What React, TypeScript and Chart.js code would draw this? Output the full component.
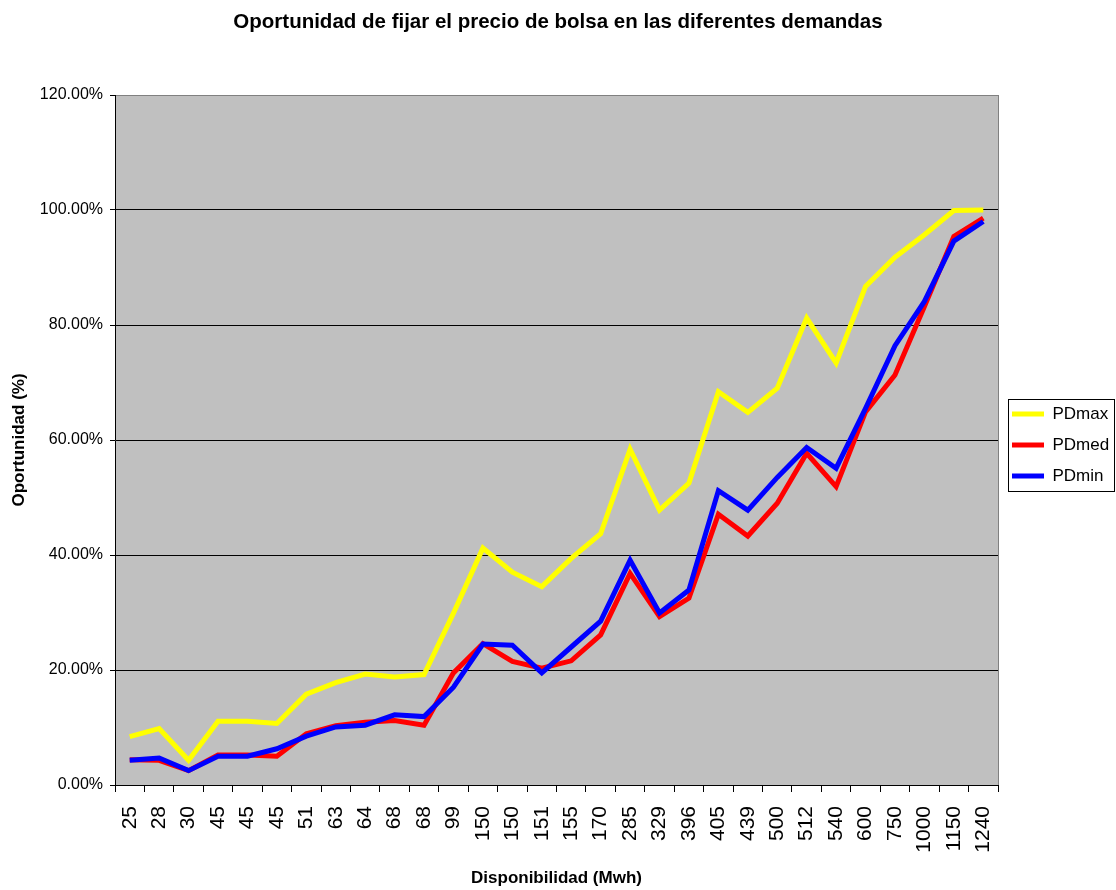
import React, { useEffect, useRef } from 'react';
import { Chart, registerables } from 'chart.js';

Chart.register(...registerables);

const categories = ['25', '28', '30', '45', '45', '45', '51', '63', '64', '68', '68', '99', '150', '150', '151', '155', '170', '285', '329', '396', '405', '439', '500', '512', '540', '600', '750', '1000', '1150', '1240'];

const pdMax = [8.4, 9.8, 4.3, 11.1, 11.1, 10.7, 15.8, 17.8, 19.3, 18.8, 19.2, 29.9, 41.2, 37.0, 34.5, 39.4, 43.7, 58.4, 47.8, 52.5, 68.4, 64.8, 69.0, 81.2, 73.4, 86.7, 91.8, 95.7, 99.9, 100.0];
const pdMed = [4.4, 4.3, 2.5, 5.2, 5.2, 5.0, 8.9, 10.3, 10.9, 11.2, 10.4, 19.5, 24.6, 21.5, 20.3, 21.6, 26.1, 36.8, 29.3, 32.5, 47.1, 43.3, 49.0, 57.7, 51.9, 64.9, 71.3, 83.2, 95.4, 98.6];
const pdMin = [4.3, 4.7, 2.5, 5.0, 5.0, 6.3, 8.5, 10.1, 10.4, 12.2, 11.9, 17.0, 24.5, 24.3, 19.5, 24.0, 28.5, 39.1, 29.9, 33.9, 51.2, 47.8, 53.5, 58.7, 55.1, 65.5, 76.4, 84.1, 94.6, 98.0];

const seriesNames = ['PDmax', 'PDmed', 'PDmin'];
const seriesColors = ['#FFFF00', '#FF0000', '#0000FF'];

const yMin = 0;
const yMax = 120;
const yStep = 20;

const titleText = 'Oportunidad de fijar el precio de bolsa en las diferentes demandas';
const xTitle = 'Disponibilidad (Mwh)';
const yTitle = 'Oportunidad (%)';

const FONT = "Arial, 'Liberation Sans', sans-serif";

const plotBg = {
  id: 'plotBg',
  beforeDraw(chart: any) {
    const { ctx, chartArea: a } = chart;
    ctx.save();
    ctx.fillStyle = '#C0C0C0';
    ctx.fillRect(a.left, a.top, a.right - a.left, a.bottom - a.top);
    ctx.restore();
  },
  beforeDatasetsDraw(chart: any) {
    const { ctx, chartArea: a } = chart;
    ctx.save();
    ctx.strokeStyle = '#808080';
    ctx.lineWidth = 1;
    ctx.beginPath();
    const x = Math.round(a.right) + 0.5;
    ctx.moveTo(x, a.top);
    ctx.lineTo(x, a.bottom);
    ctx.stroke();
    ctx.restore();
  },
};

const legendBox = {
  id: 'legendBox',
  afterDraw(chart: any) {
    const lg = chart.legend;
    const hb = lg && lg.legendHitBoxes;
    if (!hb || !hb.length) return;
    const { ctx } = chart;
    const x0 = Math.round(hb[0].left - 4) + 0.5;
    const y0 = Math.round(hb[0].top - 7) + 0.5;
    const last = hb[hb.length - 1];
    const y1 = Math.round(last.top + last.height + 6) + 0.5;
    const x1 = Math.round(lg.right - 2) + 0.5;
    ctx.save();
    ctx.strokeStyle = '#000';
    ctx.lineWidth = 1;
    ctx.strokeRect(x0, y0, x1 - x0, y1 - y0);
    ctx.restore();
  },
};

export default function App() {
  const ref = useRef<HTMLCanvasElement>(null);

  useEffect(() => {
    if (!ref.current) return;
    const values = [pdMax, pdMed, pdMin];
    const chart = new Chart(ref.current, {
      type: 'line',
      data: {
        labels: categories,
        datasets: values.map((v, i) => ({
          label: seriesNames[i],
          data: v,
          borderColor: seriesColors[i],
          backgroundColor: seriesColors[i],
          borderWidth: 5,
          pointRadius: 0,
          pointHoverRadius: 0,
          tension: 0,
          fill: false,
          order: values.length - 1 - i,
        })),
      },
      options: {
        responsive: false,
        animation: false,
        events: [],
        layout: { padding: { left: 0, right: 0, top: 0, bottom: 0 } },
        plugins: {
          title: {
            display: true,
            text: titleText,
            color: '#000',
            font: { family: FONT, size: 20.5, weight: 'bold' },
            padding: { top: 10, bottom: 60.4 },
          },
          legend: {
            display: true,
            position: 'right',
            maxWidth: 118,
            labels: {
              color: '#000',
              font: { family: FONT, size: 17 },
              usePointStyle: true,
              pointStyle: 'line',
              pointStyleWidth: 32,
              padding: 14,
              sort: (a: any, b: any) => a.datasetIndex - b.datasetIndex,
            },
          },
          tooltip: { enabled: false },
        },
        scales: {
          x: {
            type: 'category',
            offset: true,
            afterFit: (s: any) => { s.height = 105; },
            grid: { display: true, drawOnChartArea: false, drawTicks: true, tickLength: 7, color: '#000', offset: true },
            border: { display: true, color: '#000', width: 1 },
            ticks: {
              color: '#000',
              font: { family: FONT, size: 21 },
              minRotation: 90,
              maxRotation: 90,
              autoSkip: false,
              padding: 14,
            },
            title: {
              display: true,
              text: xTitle,
              color: '#000',
              font: { family: FONT, size: 17, weight: 'bold' },
              padding: { top: 0, bottom: 1 },
            },
          },
          y: {
            min: yMin,
            max: yMax,
            afterFit: (s: any) => { s.width = 115; },
            grid: {
              color: (c: any) => (c.tick && c.tick.value === yMax ? '#808080' : '#000'),
              tickColor: '#000',
              tickLength: 5,
              lineWidth: 1,
            },
            border: { display: true, color: '#000', width: 1 },
            ticks: {
              stepSize: yStep,
              color: '#000',
              font: { family: FONT, size: 16 },
              padding: 7,
              callback: (v: any) => Number(v).toFixed(2) + '%',
            },
            title: {
              display: true,
              text: yTitle,
              color: '#000',
              font: { family: FONT, size: 17, weight: 'bold' },
              padding: { top: 9, bottom: 0 },
            },
          },
        },
      },
      plugins: [plotBg, legendBox],
    } as any);
    return () => chart.destroy();
  }, []);

  return (
    <div style={{ position: 'fixed', left: 0, top: 0, width: 1116, height: 890, background: '#fff' }}>
      <canvas ref={ref} width={1116} height={890} style={{ display: 'block' }} />
    </div>
  );
}
